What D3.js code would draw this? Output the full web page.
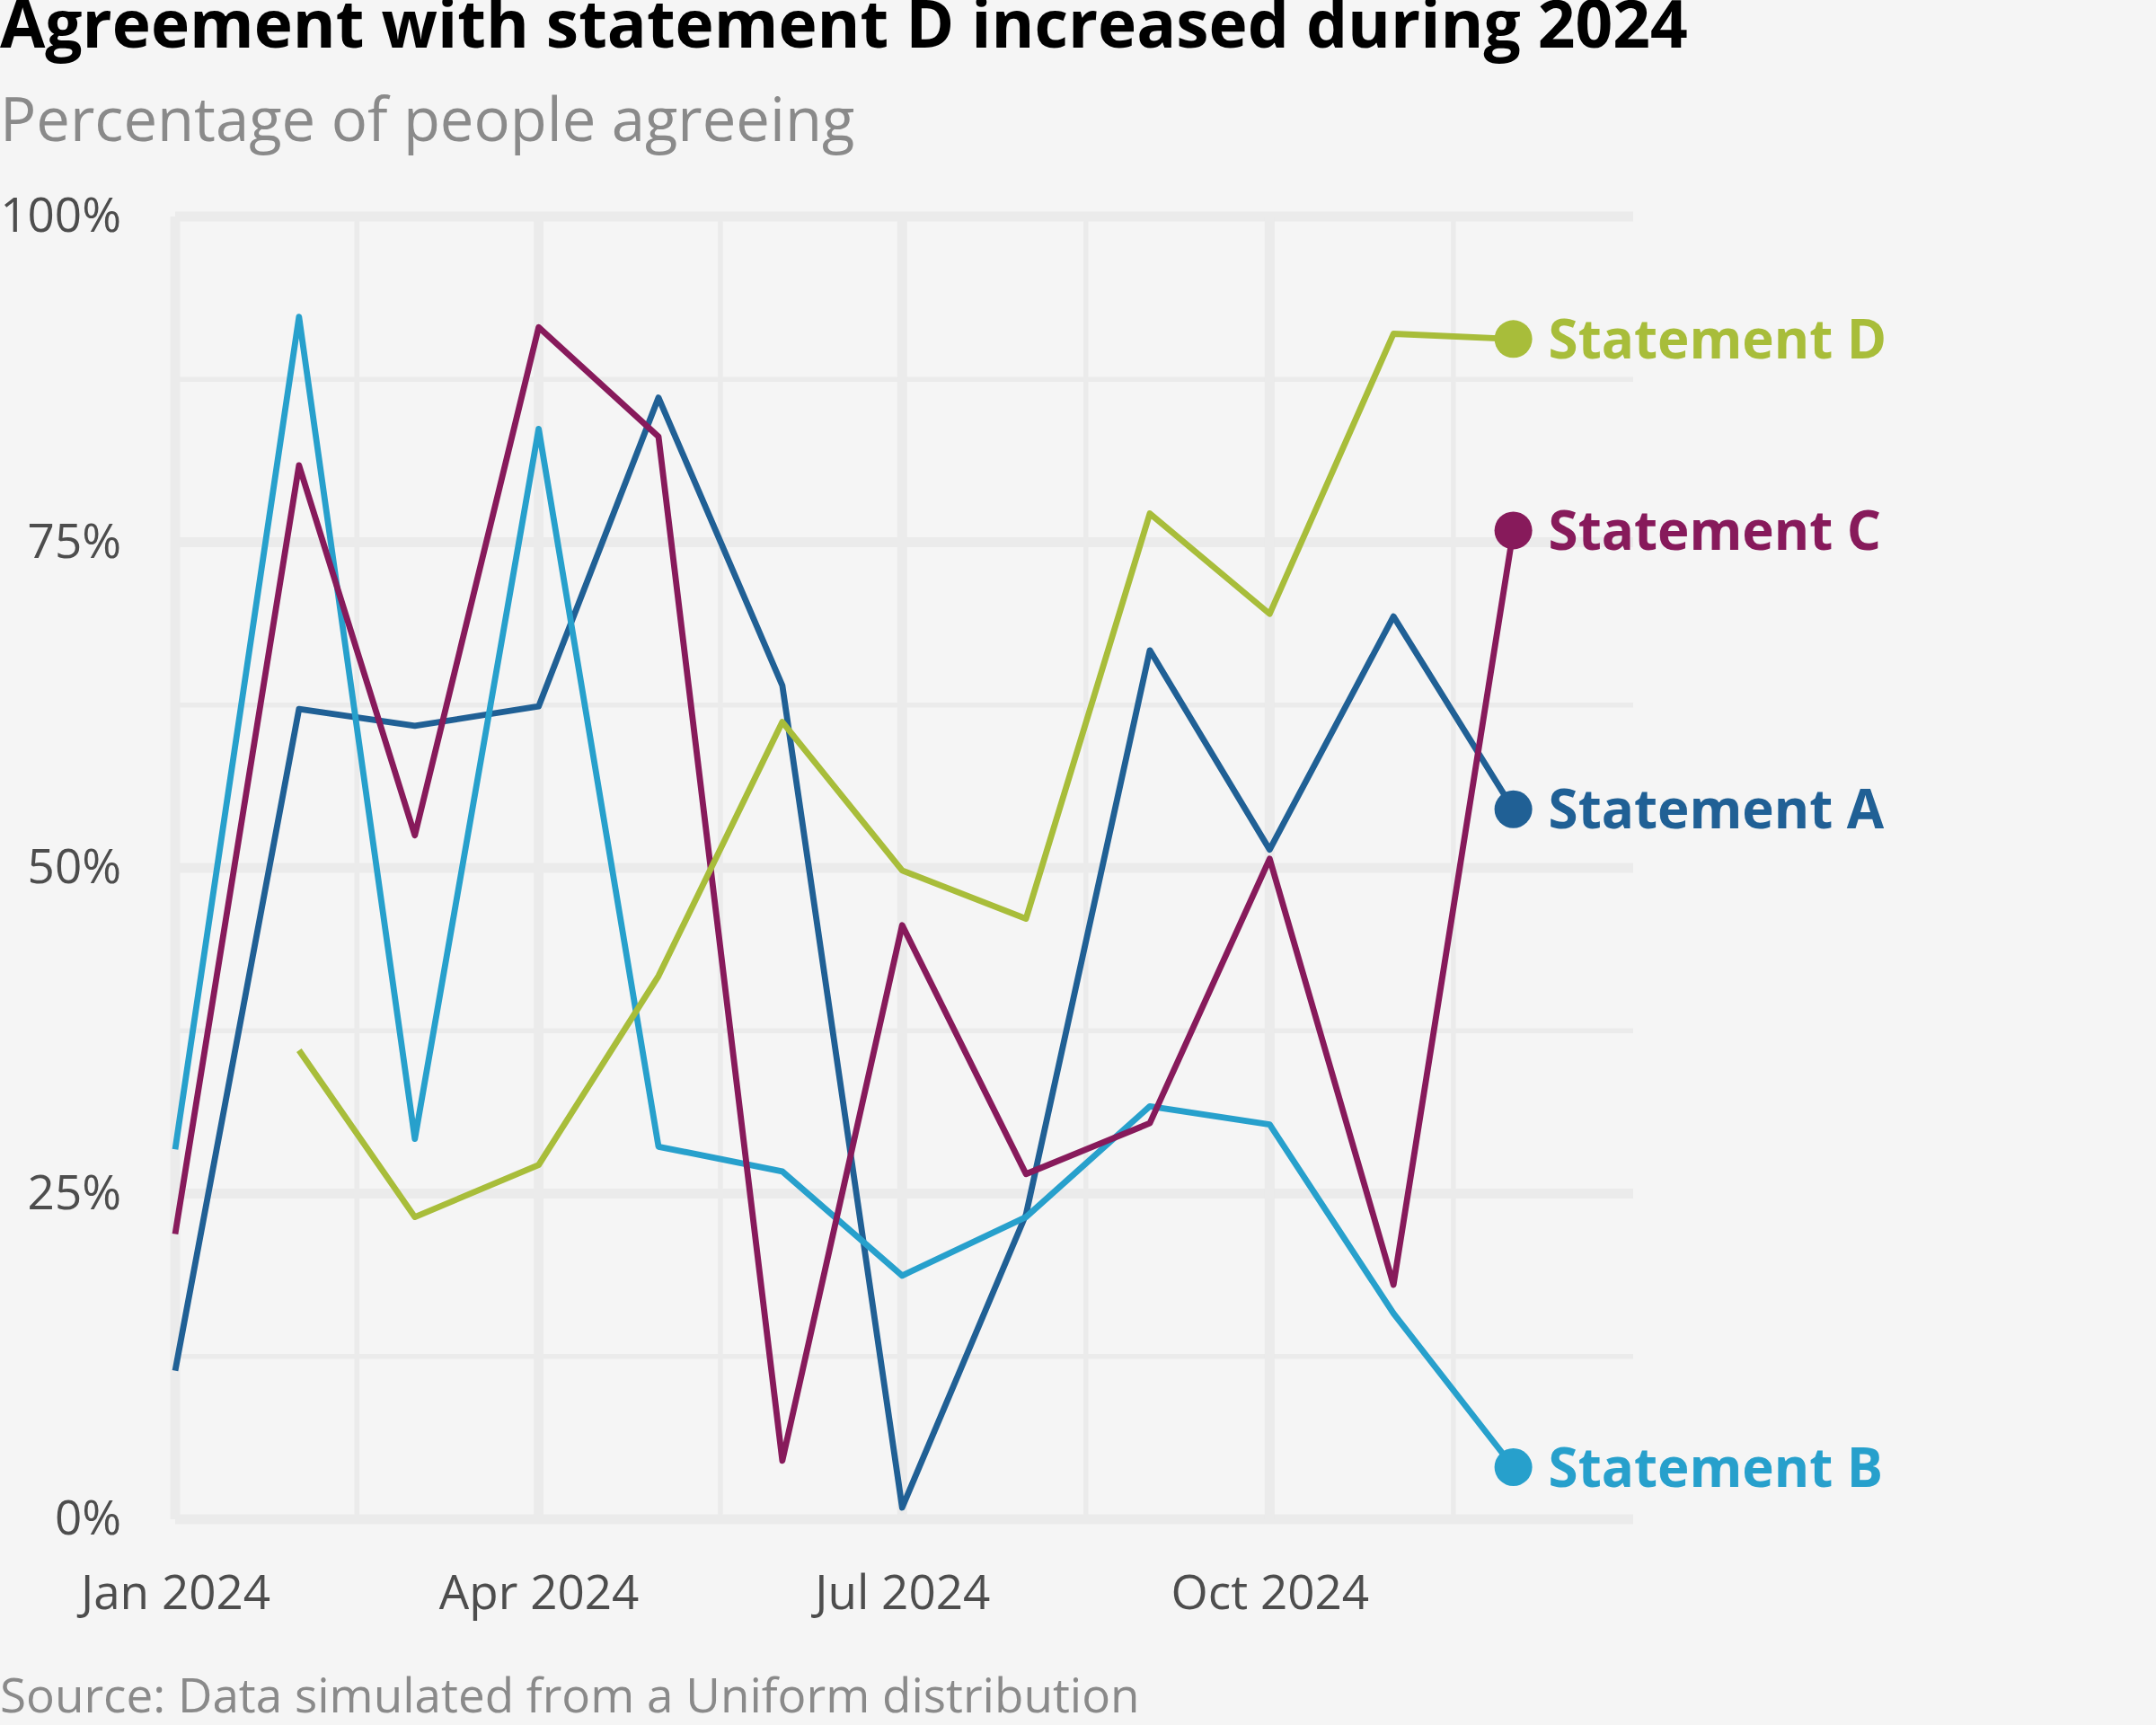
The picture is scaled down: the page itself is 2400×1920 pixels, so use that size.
<!DOCTYPE html>
<html>
<head>
<meta charset="utf-8">
<script src="https://cdn.jsdelivr.net/npm/d3@7"></script>
<style>
  body { margin: 0; background: #f5f5f5; }
  svg { display: block; font-family: 'Open Sans', sans-serif; }
</style>
</head>
<body>
<div id="chart"></div>
<script>
// data
const months = ['2024-01-01', '2024-02-01', '2024-03-01', '2024-04-01', '2024-05-01', '2024-06-01',
                '2024-07-01', '2024-08-01', '2024-09-01', '2024-10-01', '2024-11-01', '2024-12-01'];
const statementA = [11.4, 62.2, 60.9, 62.4, 86.1, 64.0, 0.9, 23.4, 66.7, 51.4, 69.3, 54.5];
const statementB = [28.4, 92.3, 29.2, 83.7, 28.6, 26.7, 18.7, 23.2, 31.7, 30.3, 15.8, 4.0];
const statementC = [21.9, 80.9, 52.5, 91.5, 83.1, 4.5, 45.6, 26.5, 30.4, 50.7, 18.0, 75.9];
const statementD = [null, 36.0, 23.2, 27.2, 41.7, 61.2, 49.8, 46.1, 77.2, 69.5, 91.0, 90.6];
const seriesNames = ['Statement A', 'Statement B', 'Statement C', 'Statement D'];

const yTicks = [0, 25, 50, 75, 100];
const yTickLabels = ['0%', '25%', '50%', '75%', '100%'];
const xTickDates = ['2024-01-01', '2024-04-01', '2024-07-01', '2024-10-01', '2025-01-01'];
const xTickLabels = ['Jan 2024', 'Apr 2024', 'Jul 2024', 'Oct 2024'];

const titleText = 'Agreement with statement D increased during 2024';
const subtitleText = 'Percentage of people agreeing';
const captionText = 'Source: Data simulated from a Uniform distribution';

const colors = ['#206095', '#27a0cc', '#871a5b', '#a8bd3a'];

const width = 2400;
const height = 1920;
const parse = d3.timeParse('%Y-%m-%d');

const svg = d3.select('#chart').append('svg')
    .attr('width', width)
    .attr('height', height);

svg.append('rect')
    .attr('width', width)
    .attr('height', height)
    .attr('fill', '#f5f5f5');

const x = d3.scaleTime()
    .domain([parse('2024-01-01'), parse('2024-12-31')])
    .range([195, 1818]);

const y = d3.scaleLinear()
    .domain([0, 100])
    .range([1691, 241]);

// gridlines: minor ones sit halfway between the major breaks
const majorX = xTickDates.map(parse);
const minorX = d3.pairs(majorX).map(([a, b]) => new Date((a.getTime() + b.getTime()) / 2));
const minorY = d3.pairs(yTicks).map(([a, b]) => (a + b) / 2);
const inX = d => d >= x.domain()[0] && d <= x.domain()[1];

const grid = svg.append('g').attr('stroke', '#ebebeb').attr('fill', 'none');

grid.selectAll('.minor-y').data(minorY).join('line')
    .attr('x1', x.range()[0]).attr('x2', x.range()[1])
    .attr('y1', d => y(d)).attr('y2', d => y(d))
    .attr('stroke-width', 5.5);

grid.selectAll('.minor-x').data(minorX.filter(inX)).join('line')
    .attr('x1', d => x(d)).attr('x2', d => x(d))
    .attr('y1', y.range()[0]).attr('y2', y.range()[1])
    .attr('stroke-width', 5.5);

grid.selectAll('.major-y').data(yTicks).join('line')
    .attr('x1', x.range()[0]).attr('x2', x.range()[1])
    .attr('y1', d => y(d)).attr('y2', d => y(d))
    .attr('stroke-width', 11);

grid.selectAll('.major-x').data(majorX.filter(inX)).join('line')
    .attr('x1', d => x(d)).attr('x2', d => x(d))
    .attr('y1', y.range()[0]).attr('y2', y.range()[1])
    .attr('stroke-width', 11);

// axes (text only, ggplot style)
const yAxis = d3.axisLeft(y)
    .tickValues(yTicks)
    .tickFormat((d, i) => yTickLabels[i])
    .tickSize(0)
    .tickPadding(0);

svg.append('g')
    .attr('transform', 'translate(135,0)')
    .call(yAxis)
    .call(g => g.select('.domain').remove())
    .call(g => g.selectAll('text')
        .attr('font-family', 'Open Sans')
        .attr('font-size', 53)
        .attr('fill', '#4d4d4d'));

const xAxis = d3.axisBottom(x)
    .tickValues(majorX.slice(0, xTickLabels.length))
    .tickFormat((d, i) => xTickLabels[i])
    .tickSize(0)
    .tickPadding(0);

svg.append('g')
    .attr('transform', 'translate(0,1753)')
    .call(xAxis)
    .call(g => g.select('.domain').remove())
    .call(g => g.selectAll('text')
        .attr('font-family', 'Open Sans')
        .attr('font-size', 53)
        .attr('fill', '#4d4d4d'));

// lines
const series = [statementA, statementB, statementC, statementD].map((values, i) => ({
    name: seriesNames[i],
    color: colors[i],
    points: values.map((v, j) => ({ date: parse(months[j]), value: v }))
}));

const line = d3.line()
    .defined(d => d.value !== null)
    .x(d => x(d.date))
    .y(d => y(d.value));

svg.append('g').selectAll('path').data(series).join('path')
    .attr('d', d => line(d.points))
    .attr('fill', 'none')
    .attr('stroke', d => d.color)
    .attr('stroke-width', 6.8)
    .attr('stroke-linejoin', 'round');

// end dots and direct labels
const last = s => s.points[s.points.length - 1];

svg.append('g').selectAll('circle').data(series).join('circle')
    .attr('cx', d => x(last(d).date))
    .attr('cy', d => y(last(d).value))
    .attr('r', 21)
    .attr('fill', d => d.color);

svg.append('g').selectAll('text').data(series).join('text')
    .attr('x', d => x(last(d).date) + 39)
    .attr('y', d => y(last(d).value))
    .attr('dy', '0.36em')
    .attr('font-size', 60)
    .attr('font-weight', 'bold')
    .attr('fill', d => d.color)
    .text(d => d.name);

// titles
svg.append('text')
    .attr('x', 0)
    .attr('y', 53)
    .attr('font-size', 73)
    .attr('font-weight', 'bold')
    .attr('fill', '#000')
    .text(titleText);

svg.append('text')
    .attr('x', 0)
    .attr('y', 157)
    .attr('font-size', 67)
    .attr('fill', '#8a8a8a')
    .text(subtitleText);

svg.append('text')
    .attr('x', 0)
    .attr('y', 1906)
    .attr('font-size', 53)
    .attr('fill', '#8a8a8a')
    .text(captionText);
</script>
</body>
</html>
